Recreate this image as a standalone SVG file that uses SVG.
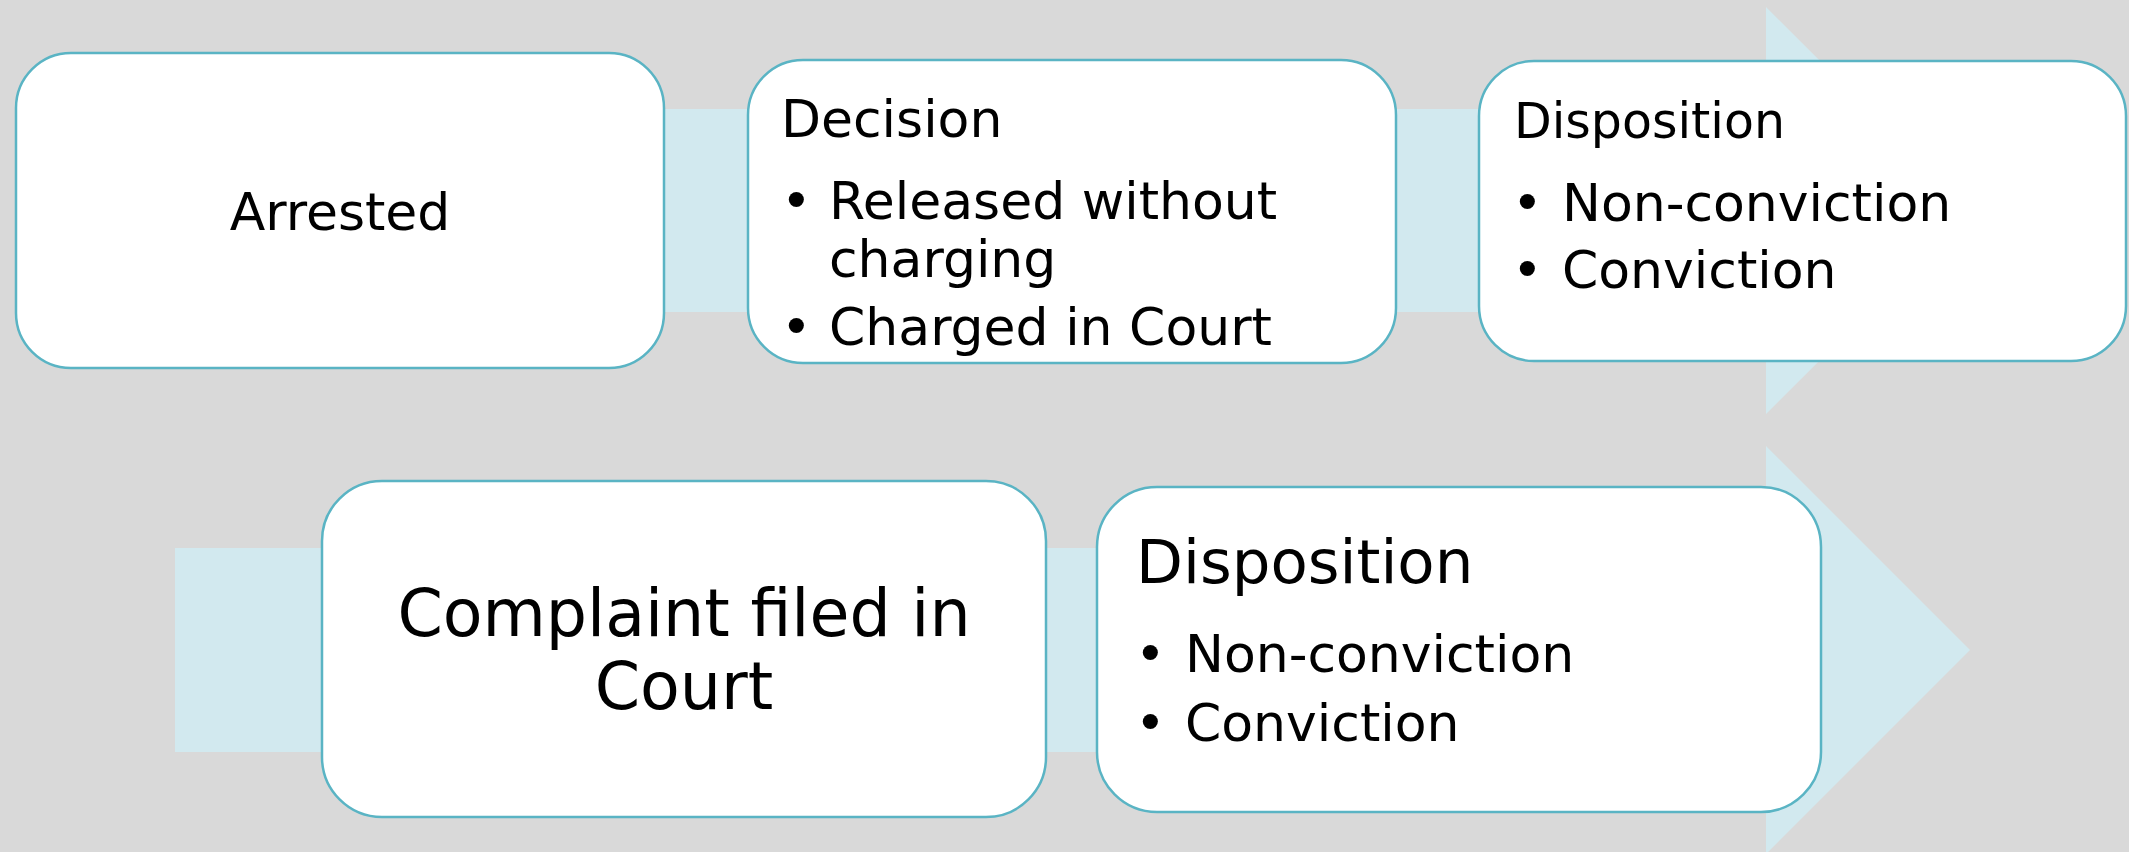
<svg xmlns="http://www.w3.org/2000/svg" width="2129" height="852" viewBox="0 0 2129 852">
  <style>
    .box { fill: #ffffff; stroke: #5ab4c4; stroke-width: 2.5; }
    .band { fill: #d2e9ef; }
    .t { font-family: "DejaVu Sans", "Liberation Sans", sans-serif; fill: #000000; }
    .s52 { font-size: 52px; }
    .s50 { font-size: 49px; }
    .s65 { font-size: 65px; }
  </style>
  <rect x="0" y="0" width="2129" height="852" fill="#d9d9d9"/>
  <g id="connectors">
    <polygon class="band" points="100,109 1766,109 1766,7 1970,210.5 1766,414 1766,312 100,312"/>
    <polygon class="band" points="175,548 1766,548 1766,446 1970,650 1766,854 1766,752 175,752"/>
  </g>
  <g id="arrested">
    <rect class="box" x="16" y="53" width="648" height="315" rx="55" ry="55"/>
    <text class="t s52" x="340" y="230" text-anchor="middle">Arrested</text>
  </g>
  <g id="decision">
    <rect class="box" x="748" y="60" width="648" height="303" rx="55" ry="55"/>
    <text class="t s52" x="781" y="137">Decision</text>
    <text class="t s52" x="781" y="219">•</text>
    <text class="t s52" x="829" y="219">Released without</text>
    <text class="t s52" x="829" y="277">charging</text>
    <text class="t s52" x="781" y="345">•</text>
    <text class="t s52" x="829" y="345">Charged in Court</text>
  </g>
  <g id="disposition-top">
    <rect class="box" x="1479" y="61" width="647" height="300" rx="55" ry="55"/>
    <text class="t s50" x="1514" y="138">Disposition</text>
    <text class="t s52" x="1512" y="221">•</text>
    <text class="t s52" x="1562" y="221">Non-conviction</text>
    <text class="t s52" x="1512" y="288">•</text>
    <text class="t s52" x="1562" y="288">Conviction</text>
  </g>
  <g id="complaint">
    <rect class="box" x="322" y="481" width="724" height="336" rx="60" ry="60"/>
    <text class="t s65" x="684" y="636" text-anchor="middle">Complaint filed in</text>
    <text class="t s65" x="684" y="709" text-anchor="middle">Court</text>
  </g>
  <g id="disposition-bottom">
    <rect class="box" x="1097" y="487" width="724" height="325" rx="60" ry="60"/>
    <text class="t" font-size="61" x="1136" y="583">Disposition</text>
    <text class="t s52" x="1135" y="672">•</text>
    <text class="t s52" x="1185" y="672">Non-conviction</text>
    <text class="t s52" x="1135" y="741">•</text>
    <text class="t s52" x="1185" y="741">Conviction</text>
  </g>
</svg>
